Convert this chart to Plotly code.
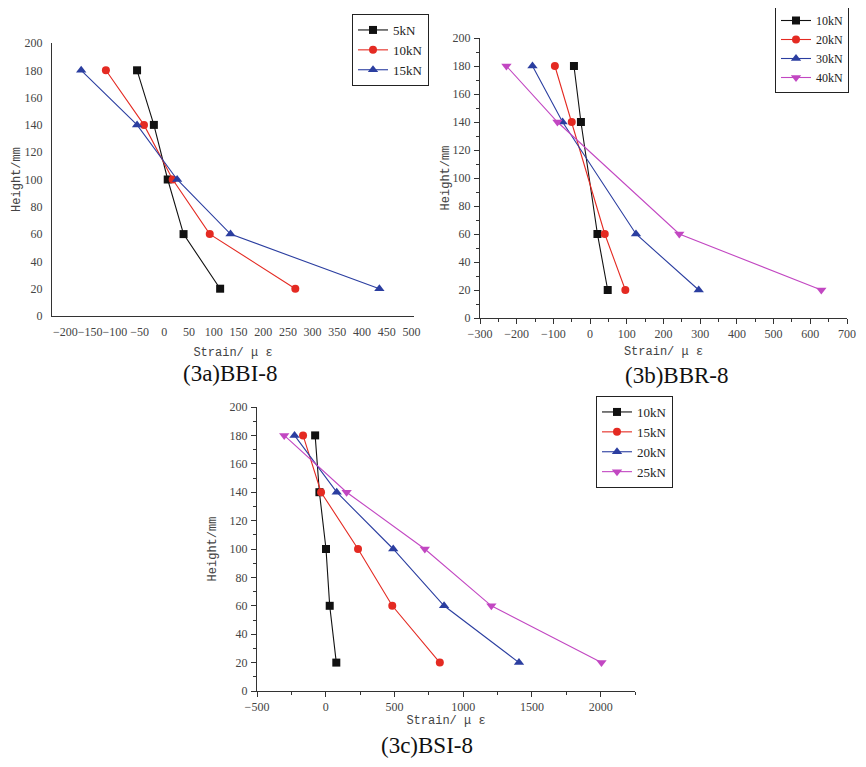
import plotly.graph_objects as go

# ---------------- data ----------------
heights_a = [180, 140, 100, 60, 20]
a_5kN = [-55, -21, 7, 39, 113]
a_10kN = [-118, -41, 17, 92, 265]
a_15kN = [-168, -55, 26, 134, 435]

heights_b = [180, 140, 60, 20]
b_10kN = [-44, -25, 20, 48]
b_20kN = [-96, -50, 40, 96]
b_30kN = [-157, -75, 125, 296]
b_40kN = [-228, -89, 243, 630]

heights_c = [180, 140, 100, 60, 20]
c_10kN = [-77, -46, 2, 29, 77]
c_15kN = [-165, -34, 235, 484, 830]
c_20kN = [-227, 80, 491, 861, 1406]
c_25kN = [-302, 152, 721, 1205, 2006]

panel_titles = ["(3a)BBI-8", "(3b)BBR-8", "(3c)BSI-8"]
x_title = "Strain/ μ ε"
y_title = "Height/mm"

BLACK = "#111111"
RED = "#e42a22"
BLUE = "#2b3ea0"
MAG = "#c247c2"

OFF = 8            # page body margin
W, H = 850, 755

fig = go.Figure()


def add(x, y, name, color, symbol, xa, ya, leg, size=8):
    fig.add_trace(go.Scatter(
        x=x, y=y, name=name, mode="lines+markers",
        line=dict(color=color, width=1.1),
        marker=dict(symbol=symbol, size=size, color=color),
        xaxis=xa, yaxis=ya, legend=leg,
    ))


add(a_5kN, heights_a, "5kN", BLACK, "square", "x", "y", "legend")
add(a_10kN, heights_a, "10kN", RED, "circle", "x", "y", "legend")
add(a_15kN, heights_a, "15kN", BLUE, "triangle-up", "x", "y", "legend", 9)

add(b_10kN, heights_b, "10kN", BLACK, "square", "x2", "y2", "legend2")
add(b_20kN, heights_b, "20kN", RED, "circle", "x2", "y2", "legend2")
add(b_30kN, heights_b, "30kN", BLUE, "triangle-up", "x2", "y2", "legend2", 9)
add(b_40kN, heights_b, "40kN", MAG, "triangle-down", "x2", "y2", "legend2", 9)

add(c_10kN, heights_c, "10kN", BLACK, "square", "x3", "y3", "legend3")
add(c_15kN, heights_c, "15kN", RED, "circle", "x3", "y3", "legend3")
add(c_20kN, heights_c, "20kN", BLUE, "triangle-up", "x3", "y3", "legend3", 9)
add(c_25kN, heights_c, "25kN", MAG, "triangle-down", "x3", "y3", "legend3", 9)


def px_x(p):
    return (p - OFF) / W


def px_y(p):
    return 1 - (p - OFF) / H


tickfont = dict(family="Liberation Serif", size=12, color="#444444")
titlefont = dict(family="Liberation Mono", size=12, color="#444444")
AX = "#333333"


def xaxis(dom, rng, dtick, anchor, ticks, minor_dtick=None, standoff=6):
    d = dict(domain=dom, range=rng, dtick=dtick, tick0=0, anchor=anchor,
             showgrid=False, zeroline=False, showline=True, linecolor=AX,
             linewidth=1, tickfont=tickfont, tickangle=0,
             title=dict(text=x_title, font=titlefont, standoff=standoff))
    if ticks:
        d.update(ticks="outside", ticklen=5, tickcolor=AX, tickwidth=1,
                 minor=dict(ticks="outside", ticklen=3, dtick=minor_dtick,
                            tickcolor=AX, tickwidth=1, tick0=0))
    else:
        d.update(ticks="", ticklabelstandoff=5)
    return d


def yaxis(dom, anchor, ticks, standoff=4):
    d = dict(domain=dom, range=[0, 200], dtick=20, tick0=0, anchor=anchor,
             showgrid=False, zeroline=False, showline=True, linecolor=AX,
             linewidth=1, tickfont=tickfont,
             title=dict(text=y_title, font=titlefont, standoff=standoff))
    if ticks:
        d.update(ticks="outside", ticklen=5, tickcolor=AX, tickwidth=1,
                 ticklabelstandoff=1,
                 minor=dict(ticks="outside", ticklen=3, dtick=10,
                            tickcolor=AX, tickwidth=1, tick0=0))
    else:
        d.update(ticks="", ticklabelstandoff=6)
    return d


def legend(x, y, size=13):
    return dict(x=x, y=y, xanchor="left", yanchor="top", bgcolor="white",
                bordercolor="#222222", borderwidth=1,
                font=dict(family="Liberation Serif", size=size, color="#222222"),
                itemwidth=30, tracegroupgap=0)


fig.update_layout(
    width=W, height=H,
    margin=dict(l=0, r=0, t=0, b=0, autoexpand=False),
    paper_bgcolor="white", plot_bgcolor="white",
    xaxis=xaxis([px_x(52), px_x(414)], [-227, 505], 50, "y", False, standoff=9),
    yaxis=yaxis([px_y(316), px_y(43)], "x", False, standoff=1),
    xaxis2=xaxis([px_x(480), px_x(847)], [-300, 700], 100, "y2", True, 50, standoff=6),
    yaxis2=yaxis([px_y(318), px_y(38)], "x2", True, standoff=0),
    xaxis3=xaxis([px_x(257), px_x(635)], [-500, 2250], 500, "y3", True, 250, standoff=2),
    yaxis3=yaxis([px_y(691), px_y(407)], "x3", True, standoff=10),
    legend=legend(px_x(352), px_y(14)),
    legend2=legend(px_x(775), px_y(5), 12),
    legend3=legend(px_x(596), px_y(396)),
    showlegend=True,
)

title_pos = [(230, 373), (677, 375), (427, 745)]
for t, (x, y) in zip(panel_titles, title_pos):
    fig.add_annotation(text=t, x=px_x(x), y=px_y(y), xref="paper", yref="paper",
                       showarrow=False, xanchor="center", yanchor="middle",
                       font=dict(family="Liberation Serif", size=23, color="#111111"))

fig.write_html("out.html")
